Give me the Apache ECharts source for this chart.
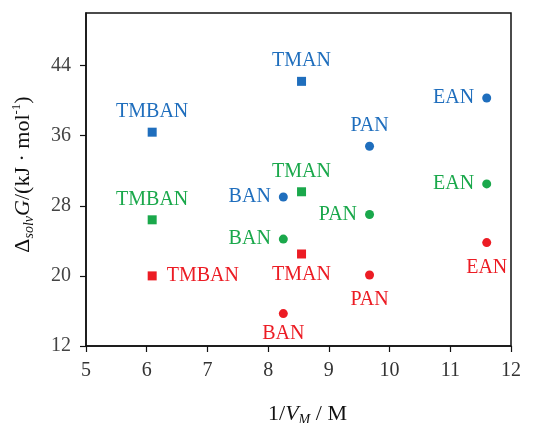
<!DOCTYPE html>
<html>
<head>
<meta charset="utf-8">
<script src="https://cdn.jsdelivr.net/npm/echarts@6/dist/echarts.min.js"></script>
<style>html,body{margin:0;padding:0;background:#fff;}#c{width:541px;height:423px;}</style>
</head>
<body>
<div id="c"></div>
<script>
// Data
const names = ['TMBAN', 'BAN', 'TMAN', 'PAN', 'EAN'];
const invVM = [6.09, 8.25, 8.55, 9.67, 11.6];
const blueG = [36.4, 29.0, 42.2, 34.8, 40.3];
const greenG = [26.4, 24.2, 29.6, 27.0, 30.5];
const redG = [20.0, 15.7, 22.5, 20.1, 23.8];
const xTicks = [5, 6, 7, 8, 9, 10, 11, 12];
const yTicks = [12, 20, 28, 36, 44];

// Styling
const shapes = ['rect', 'circle', 'rect', 'circle', 'circle'];
const groups = [
  { vals: blueG, color: '#1f6ebd', pos: ['top', 'left', 'top', 'top', 'left'], dist: [6, 8, 6, 6, 8] },
  { vals: greenG, color: '#1aa84b', pos: ['top', 'left', 'top', 'left', 'left'], dist: [6, 8, 6, 8, 8] },
  { vals: redG, color: '#ec1c24', pos: ['right', 'bottom', 'bottom', 'bottom', 'bottom'], dist: [10, 6, 6, 10, 11] }
];
const FONT = '"Liberation Serif", "DejaVu Serif", serif';

const series = groups.map(g => ({
  type: 'scatter',
  data: names.map((n, i) => ({
    value: [invVM[i], g.vals[i]],
    name: n,
    symbol: shapes[i],
    symbolSize: 9,
    label: { position: g.pos[i], distance: g.dist[i] }
  })),
  itemStyle: { color: g.color, opacity: 1 },
  label: {
    show: true,
    formatter: p => p.name,
    color: g.color,
    fontFamily: FONT,
    fontSize: 20
  },
  emphasis: { disabled: true }
}));

const chart = echarts.init(document.getElementById('c'), null, { renderer: 'canvas' });
chart.setOption({
  animation: false,
  grid: { left: 86, right: 30, top: 13, bottom: 77, outerBoundsMode: 'none', containLabel: false, show: true, borderColor: '#111', borderWidth: 1.5, backgroundColor: 'transparent' },
  xAxis: {
    type: 'value', min: 5, max: 12, interval: 1,
    name: '{n|1/}{i|V}{sub|M}{n| / M}',
    nameLocation: 'middle', nameGap: 55,
    nameTextStyle: {
      fontFamily: FONT, fontSize: 22, color: '#111', lineHeight: 26, padding: [0, 0, 0, 18],
      rich: {
        n: { fontFamily: FONT, fontSize: 22, color: '#111', lineHeight: 26 },
        i: { fontFamily: FONT, fontSize: 22, fontStyle: 'italic', color: '#111', lineHeight: 26 },
        sub: { fontFamily: FONT, fontSize: 14, fontStyle: 'italic', color: '#111', verticalAlign: 'bottom', lineHeight: 14 }
      }
    },
    axisLine: { show: true, lineStyle: { color: '#111', width: 1.5 } },
    axisTick: { show: true, inside: false, length: 6, lineStyle: { color: '#111', width: 1.2 }, customValues: xTicks },
    axisLabel: { fontFamily: FONT, fontSize: 20, color: '#333', margin: 15, customValues: xTicks },
    splitLine: { show: false }
  },
  yAxis: {
    type: 'value', min: 12, max: 50, interval: 8,
    name: '{n|Δ}{sub|solv}{i|G}{n|/(kJ · mol}{sup|-1}{n|)}',
    nameLocation: 'middle', nameGap: 50, nameRotate: 90,
    nameTextStyle: {
      fontFamily: FONT, fontSize: 22, color: '#111', lineHeight: 26, padding: [0, 0, 0, 10],
      rich: {
        n: { fontFamily: FONT, fontSize: 22, color: '#111', lineHeight: 26 },
        i: { fontFamily: FONT, fontSize: 22, fontStyle: 'italic', color: '#111', lineHeight: 26 },
        sub: { fontFamily: FONT, fontSize: 14, fontStyle: 'italic', color: '#111', verticalAlign: 'bottom', lineHeight: 14 },
        sup: { fontFamily: FONT, fontSize: 13, color: '#111', verticalAlign: 'top', lineHeight: 13 }
      }
    },
    axisLine: { show: true, lineStyle: { color: '#111', width: 1.5 } },
    axisTick: { show: true, inside: false, length: 6, lineStyle: { color: '#111', width: 1.2 }, customValues: yTicks },
    axisLabel: { fontFamily: FONT, fontSize: 20, color: '#444', margin: 15, customValues: yTicks },
    splitLine: { show: false }
  },
  series: series
});
</script>
</body>
</html>
